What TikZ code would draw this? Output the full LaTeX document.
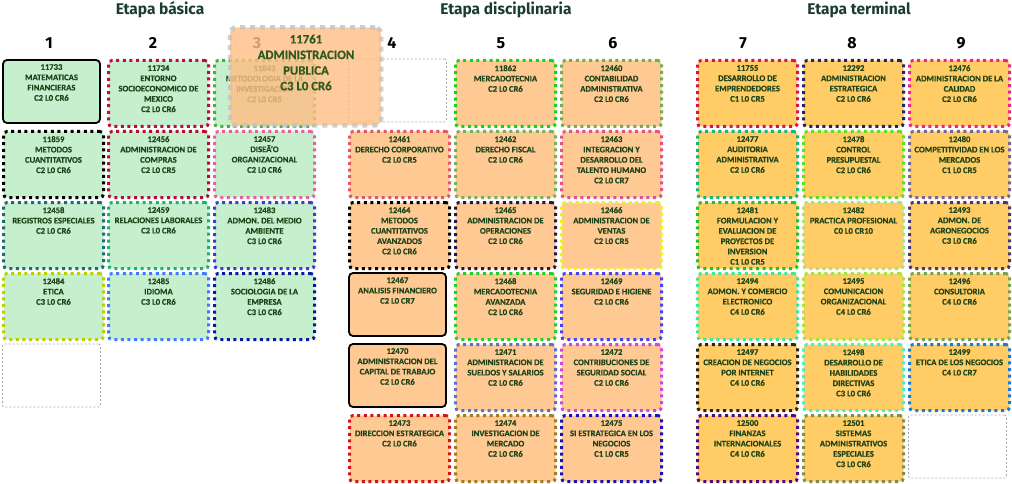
\documentclass[tikz,border=0pt]{standalone}
\usepackage{fontspec}
\setmainfont{Carlito}[BoldFeatures={FakeBold=0.35}]
\newfontfamily\titlefont{Fira Sans}
\usetikzlibrary{positioning}
\definecolor{txtgreen}{HTML}{1F4418}
\definecolor{titlegreen}{HTML}{1B3D2F}
\definecolor{fillbas}{HTML}{C6EFCE}
\definecolor{filldis}{HTML}{FFC994}
\definecolor{fillter}{HTML}{FFCC66}
\definecolor{ovfill}{HTML}{FFBF86}
\definecolor{ovborder}{HTML}{C4C4C4}
\definecolor{ovtext}{HTML}{2D5A1E}
\tikzset{
  dotbox/.style={draw, line width=3pt, dash pattern=on 3pt off 3.6pt, rounded corners=3.5pt,
    minimum width=100pt, minimum height=66pt, inner sep=0pt, anchor=center},
  solidbox/.style={draw=black, line width=1.8pt, rounded corners=4pt,
    minimum width=97pt, minimum height=63pt, inner sep=0pt, anchor=center},
  emptybox/.style={draw=gray!70, line width=0.7pt, dash pattern=on 2pt off 2pt, rounded corners=2pt,
    minimum width=98pt, minimum height=63pt, inner sep=0pt, anchor=center},
  ctext/.style={anchor=north, inner sep=0pt, align=center, text=txtgreen,
    font=\fontsize{8.6}{10.3}\selectfont\bfseries},
  colnum/.style={font=\titlefont\fontsize{16}{18}\selectfont\bfseries, text=black, anchor=base, inner sep=0pt},
  etapa/.style={font=\titlefont\fontsize{15.5}{18}\selectfont\bfseries, text=titlegreen, anchor=base, inner sep=0pt},
}
% dotted course: name, X, Y, fill, border colour (hex), text
\newcommand{\dcourse}[6]{%
  \definecolor{bc#1}{HTML}{#5}%
  \node[dotbox, fill=#4, draw=bc#1] (#1) at (#2+51.5, #3+34.5) {};
  \node[ctext] (#1t) at (#2+51.5, #3+6) {#6};}
\newcommand{\scourse}[5]{%
  \node[solidbox, fill=#4] (#1) at (#2+49.5, #3+32.5) {};
  \node[ctext] (#1t) at (#2+49.5, #3+5) {#5};}
\newcommand{\ecourse}[3]{%
  \node[emptybox] (#1) at (#2+49.5, #3+32.5) {};}
\begin{document}
\begin{tikzpicture}[x=1pt, y=-1pt]
\useasboundingbox (0,0) rectangle (1012,484);
% titles
\node[etapa] (tb) at (160,15) {Etapa básica};
\node[etapa] (td) at (506,15) {Etapa disciplinaria};
\node[etapa] (tt) at (859,15) {Etapa terminal};
% column numbers
\node[colnum] (n1) at (49,49) {1};
\node[colnum] (n2) at (153,49) {2};
\node[colnum] (n3) at (257,49) {3};
\node[colnum] (n4) at (392,49) {4};
\node[colnum] (n5) at (501,49) {5};
\node[colnum] (n6) at (613,49) {6};
\node[colnum] (n7) at (743,49) {7};
\node[colnum] (n8) at (852,49) {8};
\node[colnum] (n9) at (961,49) {9};
% ---- column 1
\scourse{c11733}{2}{59}{fillbas}{11733\\MATEMATICAS\\FINANCIERAS\\C2 L0 CR6}
\dcourse{c11859}{2}{130}{fillbas}{000000}{11859\\METODOS\\CUANTITATIVOS\\C2 L0 CR6}
\dcourse{c12458}{2}{201}{fillbas}{1E6B78}{12458\\REGISTROS ESPECIALES\\C2 L0 CR6}
\dcourse{c12484}{2}{272}{fillbas}{BFCC00}{12484\\ETICA\\C3 L0 CR6}
\ecourse{e1}{2}{343}
% ---- column 2
\dcourse{c11734}{107}{59}{fillbas}{B8103A}{11734\\ENTORNO\\SOCIOECONOMICO DE\\MEXICO\\C2 L0 CR6}
\dcourse{c12456}{107}{130}{fillbas}{B0102E}{12456\\ADMINISTRACION DE\\COMPRAS\\C2 L0 CR5}
\dcourse{c12459}{107}{201}{fillbas}{1DB26E}{12459\\RELACIONES LABORALES\\C2 L0 CR6}
\dcourse{c12485}{107}{272}{fillbas}{3D7BFF}{12485\\IDIOMA\\C3 L0 CR6}
% ---- column 3
\dcourse{c11843}{213}{59}{fillbas}{4CAF3A}{11843\\METODOLOGIA DE LA\\INVESTIGACION\\C2 L0 CR5}
\dcourse{c12457}{213}{130}{fillbas}{E8609A}{12457\\DISEÃ‘O\\ORGANIZACIONAL\\C2 L0 CR6}
\dcourse{c12483}{213}{201}{fillbas}{3B3BD6}{12483\\ADMON. DEL MEDIO\\AMBIENTE\\C3 L0 CR6}
\dcourse{c12486}{213}{272}{fillbas}{0A1A9C}{12486\\SOCIOLOGIA DE LA\\EMPRESA\\C3 L0 CR6}
% ---- column 4
\ecourse{e4}{348}{58}
\dcourse{c12461}{348}{130}{filldis}{E0566A}{12461\\DERECHO CORPORATIVO\\C2 L0 CR5}
\dcourse{c12464}{348}{201}{filldis}{000000}{12464\\METODOS\\CUANTITATIVOS\\AVANZADOS\\C2 L0 CR6}
\scourse{c12467}{348}{272}{filldis}{12467\\ANALISIS FINANCIERO\\C2 L0 CR7}
\scourse{c12470}{348}{343}{filldis}{12470\\ADMINISTRACION DEL\\CAPITAL DE TRABAJO\\C2 L0 CR6}
\dcourse{c12473}{348}{414}{filldis}{D41414}{12473\\DIRECCION ESTRATEGICA\\C2 L0 CR6}
% ---- column 5
\dcourse{c11862}{454}{59}{filldis}{14D414}{11862\\MERCADOTECNIA\\C2 L0 CR6}
\dcourse{c12462}{454}{130}{filldis}{74B258}{12462\\DERECHO FISCAL\\C2 L0 CR6}
\dcourse{c12465}{454}{201}{filldis}{24184A}{12465\\ADMINISTRACION DE\\OPERACIONES\\C2 L0 CR6}
\dcourse{c12468}{454}{272}{filldis}{22D022}{12468\\MERCADOTECNIA\\AVANZADA\\C2 L0 CR6}
\dcourse{c12471}{454}{343}{filldis}{5A6FD0}{12471\\ADMINISTRACION DE\\SUELDOS Y SALARIOS\\C2 L0 CR6}
\dcourse{c12474}{454}{414}{filldis}{A07E1E}{12474\\INVESTIGACION DE\\MERCADO\\C2 L0 CR6}
% ---- column 6
\dcourse{c12460}{560}{59}{filldis}{72AE58}{12460\\CONTABILIDAD\\ADMINISTRATIVA\\C2 L0 CR6}
\dcourse{c12463}{560}{130}{filldis}{E0528E}{12463\\INTEGRACION Y\\DESARROLLO DEL\\TALENTO HUMANO\\C2 L0 CR7}
\dcourse{c12466}{560}{201}{filldis}{EEF020}{12466\\ADMINISTRACION DE\\VENTAS\\C2 L0 CR5}
\dcourse{c12469}{560}{272}{filldis}{4444F0}{12469\\SEGURIDAD E HIGIENE\\C2 L0 CR6}
\dcourse{c12472}{560}{343}{filldis}{D444D8}{12472\\CONTRIBUCIONES DE\\SEGURIDAD SOCIAL\\C2 L0 CR6}
\dcourse{c12475}{560}{414}{filldis}{1414B8}{12475\\SI ESTRATEGICA EN LOS\\NEGOCIOS\\C1 L0 CR5}
% ---- column 7
\dcourse{c11755}{696}{59}{fillter}{D0145C}{11755\\DESARROLLO DE\\EMPRENDEDORES\\C1 L0 CR5}
\dcourse{c12477}{696}{130}{fillter}{14B47E}{12477\\AUDITORIA\\ADMINISTRATIVA\\C2 L0 CR6}
\dcourse{c12481}{696}{201}{fillter}{22C222}{12481\\FORMULACION Y\\EVALUACION DE\\PROYECTOS DE\\INVERSION\\C1 L0 CR5}
\dcourse{c12494}{696}{272}{fillter}{3CE6A0}{12494\\ADMON. Y COMERCIO\\ELECTRONICO\\C4 L0 CR6}
\dcourse{c12497}{696}{343}{fillter}{2A2414}{12497\\CREACION DE NEGOCIOS\\POR INTERNET\\C4 L0 CR6}
\dcourse{c12500}{696}{414}{fillter}{520A7A}{12500\\FINANZAS\\INTERNACIONALES\\C4 L0 CR6}
% ---- column 8
\dcourse{c12292}{802}{59}{fillter}{24245E}{12292\\ADMINISTRACION\\ESTRATEGICA\\C2 L0 CR6}
\dcourse{c12478}{802}{130}{fillter}{5CE01E}{12478\\CONTROL\\PRESUPUESTAL\\C2 L0 CR6}
\dcourse{c12482}{802}{201}{fillter}{A8E27A}{12482\\PRACTICA PROFESIONAL\\C0 L0 CR10}
\dcourse{c12495}{802}{272}{fillter}{A4E63C}{12495\\COMUNICACION\\ORGANIZACIONAL\\C4 L0 CR6}
\dcourse{c12498}{802}{343}{fillter}{46F0C4}{12498\\DESARROLLO DE\\HABILIDADES\\DIRECTIVAS\\C3 L0 CR6}
\dcourse{c12501}{802}{414}{fillter}{7E8E52}{12501\\SISTEMAS\\ADMINISTRATIVOS\\ESPECIALES\\C3 L0 CR6}
% ---- column 9
\dcourse{c12476}{908}{59}{fillter}{F0208C}{12476\\ADMINISTRACION DE LA\\CALIDAD\\C2 L0 CR6}
\dcourse{c12480}{908}{130}{fillter}{74669A}{12480\\COMPETITIVIDAD EN LOS\\MERCADOS\\C1 L0 CR5}
\dcourse{c12493}{908}{201}{fillter}{463878}{12493\\ADMON. DE\\AGRONEGOCIOS\\C3 L0 CR6}
\dcourse{c12496}{908}{272}{fillter}{72A452}{12496\\CONSULTORIA\\C4 L0 CR6}
\dcourse{c12499}{908}{343}{fillter}{1A78D8}{12499\\ETICA DE LOS NEGOCIOS\\C4 L0 CR7}
\ecourse{e9}{908}{414}
% ---- dragged overlay
\node[draw=ovborder, fill=ovfill, opacity=0.82, line width=4.5pt, dash pattern=on 5pt off 5pt,
  rounded corners=6pt, minimum width=151pt, minimum height=98pt, inner sep=0pt] (ov) at (305.5,76.5) {};
\node[anchor=north, inner sep=0pt, align=center, text=ovtext,
  font=\fontsize{12.8}{15.6}\selectfont\bfseries] (ovt) at (306,34.5) {11761\\ADMINISTRACION\\PUBLICA\\C3 L0 CR6};
\end{tikzpicture}
\end{document}
